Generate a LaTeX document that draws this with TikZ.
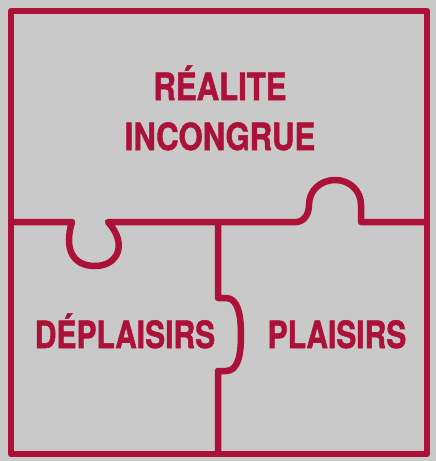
\documentclass[tikz,border=0pt]{standalone}
\usepackage{fontspec}
\setmainfont{TeX Gyre Heros}[BoldFeatures={FakeBold=1.5}]
\usepackage{graphicx}
\definecolor{puzred}{RGB}{172,18,56}
\definecolor{puzgray}{RGB}{201,201,201}
\begin{document}
\begin{tikzpicture}[x=1pt,y=-1pt,
  piece/.style={draw=puzred,line width=6.5pt,line join=round},
  lbl/.style={text=puzred,font=\bfseries\fontsize{37.5}{44}\selectfont,anchor=base,inner sep=0pt}]
\fill[puzgray] (0,0) rectangle (436,461);
\useasboundingbox (0,0) rectangle (436,461);
% outer frame
\draw[piece] (11,11) rectangle (427,454);
% horizontal divider with socket and knob
\draw[piece] (11,222) -- (72,222)
  .. controls (64,248) and (72,266) .. (95,266)
  .. controls (118,266) and (128,244) .. (108,222)
  -- (297,222)
  .. controls (305,221) and (309,213) .. (309,205)
  .. controls (309,190) and (321,180) .. (335,180)
  .. controls (349,180) and (361,190) .. (361,205)
  -- (361,222) -- (427,222);
% vertical divider with knob
\draw[piece] (218,222) -- (218,298) -- (226,298)
  .. controls (238,298) and (241,315) .. (241,335)
  .. controls (241,355) and (238,371) .. (226,371)
  -- (218,371) -- (218,454);
% labels
\node[lbl] (r1) at (220,100) {\scalebox{0.83}[1]{RÉALITE}};
\node[lbl] (r2) at (220,150) {\scalebox{0.83}[1]{INCONGRUE}};
\node[lbl] (dp) at (125,348) {\scalebox{0.80}[1]{DÉPLAISIRS}};
\node[lbl] (pl) at (337,348) {\scalebox{0.80}[1]{PLAISIRS}};
\end{tikzpicture}
\end{document}
